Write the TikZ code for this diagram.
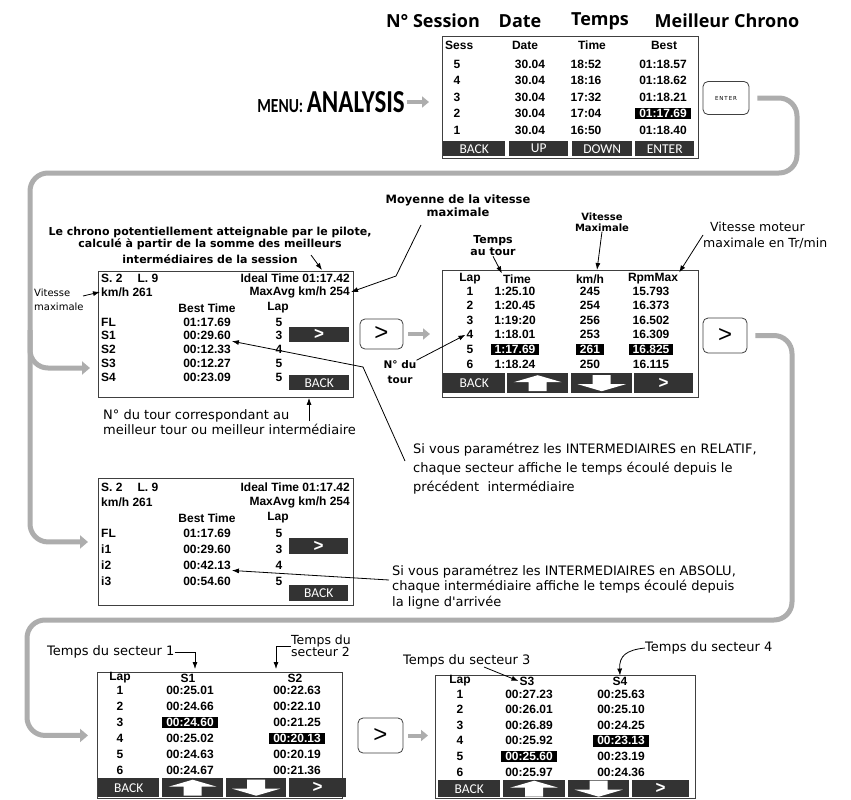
\documentclass[tikz,border=0pt]{standalone}
\usepackage{fontspec}
\setmainfont{Liberation Sans}
\newfontfamily\headfont{Open Sans}
\newfontfamily\keyfont{Carlito}
\newfontfamily\notefont{DejaVu Sans}
\usetikzlibrary{positioning,arrows.meta}

\begin{document}
\begin{tikzpicture}[x=1pt, y=-1pt,
    screen/.style={draw=black!75, line width=0.9pt, inner sep=0, anchor=north west},
    cell/.style={font=\fontsize{12}{12}\selectfont\bfseries, inner sep=1pt},
    plain/.style={},
    hl/.style={fill=black, text=white, inner xsep=4pt, inner ysep=1.5pt},
    btn/.style={fill=black!80, text=white, font=\keyfont\fontsize{13.5}{13.5}\selectfont, inner sep=0, anchor=north west},
    nextbtn/.style={btn, font=\fontsize{17}{17}\selectfont\bfseries},
    key/.style={draw=black!75, line width=0.8pt, rounded corners=5pt, minimum width=44pt, minimum height=32pt, inner sep=0, font=\fontsize{24}{24}\selectfont},
    head/.style={font=\headfont\bfseries\fontsize{18}{18}\selectfont},
    note/.style={font=\notefont\bfseries\fontsize{11}{12}\selectfont, align=center, inner sep=0},
    remark/.style={font=\notefont\fontsize{13}{19}\selectfont, align=left, inner sep=0, anchor=west},
    pointer/.style={-{Latex[length=7pt,width=5pt]}, line width=0.8pt},
    flow/.style={draw=black!32, line width=5pt, rounded corners=18pt, -{Triangle[length=8pt,width=13pt]}},
    go/.style={draw=black!32, line width=4pt, -{Triangle[length=7pt,width=11pt]}}
]
\fill[white] (0,0) rectangle (851,800);
\useasboundingbox (0,0) rectangle (851,800);

% column titles
\node[head] (hsess) at (433,21) {N° Session};
\node[head] (hdate) at (520,21) {Date};
\node[head] (htemps) at (600,21) {Temps};
\node[head] (hchrono) at (727,21) {Meilleur Chrono};

\node[font=\keyfont\bfseries, inner sep=0] (menu) at (331,102)
  {\scalebox{0.78}[1]{\fontsize{20}{20}\selectfont MENU: \fontsize{32}{32}\selectfont ANALYSIS}};

% session list
\node[screen, minimum width=256, minimum height=122] (sess) at (442,36) {};
\node[cell, anchor=west] (ssh) at (444,45) {Sess};
\node[cell] (sdh) at (525,45) {Date};
\node[cell] (sth) at (592,45) {Time};
\node[cell] (sbh) at (664,45) {Best};
\foreach \n/\t/\b/\s [count=\i] in {5/18:52/01:18.57/plain, 4/18:16/01:18.62/plain, 3/17:32/01:18.21/plain, 2/17:04/01:17.69/hl, 1/16:50/01:18.40/plain} {
  \node[cell] (sn\i) at (457,47.5+16.5*\i) {\n};
  \node[cell] (sd\i) at (530,47.5+16.5*\i) {30.04};
  \node[cell] (st\i) at (586,47.5+16.5*\i) {\t};
  \node[cell,\s] (sb\i) at (663,47.5+16.5*\i) {\b};
}
\foreach \x/\w/\t in {443/62/BACK, 509/59/UP, 572/60/DOWN, 635/59/ENTER}
  \node[btn, minimum width=\w, minimum height=15] (sk\t) at (\x,141) {\t};
\node[key, minimum width=46, minimum height=33, font=\notefont\fontsize{5.5}{5.5}\selectfont] (kenter) at (726,98) {E\,N\,T\,E\,R};

% best times, relative
\node[screen, minimum width=255, minimum height=126] (best) at (98,271) {};
\node[cell, anchor=west] (b1s) at (100,278) {S. 2};
\node[cell] (b1l) at (148,278) {L. 9};
\node[cell, anchor=east] (b1ideal) at (351,278) {Ideal Time 01:17.42};
\node[cell, anchor=west] (b1kmh) at (100,292) {km/h 261};
\node[cell, anchor=east] (b1avg) at (351,292) {MaxAvg km/h 254};
\node[cell] (b1bt) at (207,308) {Best Time};
\node[cell] (b1lh) at (278,308) {Lap};
\foreach \a/\b/\c [count=\i] in {FL/01:17.69/5, S1/00:29.60/3, S2/00:12.33/4, S3/00:12.27/5, S4/00:23.09/5} {
  \node[cell, anchor=west] (b1a\i) at (100,308.25+13.75*\i) {\a};
  \node[cell] (b1b\i) at (207,308.25+13.75*\i) {\b};
  \node[cell] (b1c\i) at (279,308.25+13.75*\i) {\c};
}
\node[nextbtn, minimum width=60, minimum height=15] (b1next) at (289,327) {>};
\node[btn, minimum width=60, minimum height=15] (b1back) at (289,375) {BACK};

% best times, absolute
\node[screen, minimum width=255, minimum height=127] (bestabs) at (98,478) {};
\node[cell, anchor=west] (b3s) at (100,487) {S. 2};
\node[cell] (b3l) at (148,487) {L. 9};
\node[cell, anchor=east] (b3ideal) at (351,487) {Ideal Time 01:17.42};
\node[cell, anchor=west] (b3kmh) at (100,502) {km/h 261};
\node[cell, anchor=east] (b3avg) at (351,502) {MaxAvg km/h 254};
\node[cell] (b3bt) at (207,518) {Best Time};
\node[cell] (b3lh) at (278,518) {Lap};
\foreach \a/\b/\c [count=\i] in {FL/01:17.69/5, i1/00:29.60/3, i2/00:42.13/4, i3/00:54.60/5} {
  \node[cell, anchor=west] (b3a\i) at (100,517+16*\i) {\a};
  \node[cell] (b3b\i) at (207,517+16*\i) {\b};
  \node[cell] (b3c\i) at (279,517+16*\i) {\c};
}
\node[nextbtn, minimum width=59, minimum height=16] (b3next) at (289,538) {>};
\node[btn, minimum width=59, minimum height=16] (b3back) at (289,585) {BACK};

% laps
\node[screen, minimum width=256, minimum height=127] (laps) at (442,270) {};
\node[cell] (lhlap) at (470,279) {Lap};
\node[cell] (lhtime) at (517,279) {Time};
\node[cell] (lhkmh) at (590,279) {km/h};
\node[cell] (lhrpm) at (653,279) {RpmMax};
\foreach \t/\k/\r/\s [count=\i] in {1:25.10/245/15.793/plain, 1:20.45/254/16.373/plain, 1:19:20/256/16.502/plain, 1:18.01/253/16.309/plain, 1:17.69/261/16.825/hl, 1:18.24/250/16.115/plain} {
  \node[cell] (ln\i) at (470,276.4+14.6*\i) {\i};
  \node[cell,\s] (lt\i) at (515,276.4+14.6*\i) {\t};
  \node[cell,\s] (lk\i) at (590,276.4+14.6*\i) {\k};
  \node[cell,\s] (lr\i) at (651,276.4+14.6*\i) {\r};
}
\foreach \x/\w/\n in {443/62/back, 507/61/up, 571/61/down}
  \node[btn, minimum width=\w, minimum height=20] (lbtn\n) at (\x,373) {};
\node[nextbtn, minimum width=59, minimum height=20] (lbtnnext) at (634,373) {>};
\node[font=\keyfont\fontsize{13.5}{13.5}\selectfont, text=white] (lbtnbacktxt) at (lbtnback) {BACK};

% sectors 1-2
\node[screen, minimum width=245, minimum height=126] (sec12) at (97,672) {};
\node[cell] (c1hlap) at (120,678) {Lap};
\node[cell] (c1hs1) at (188,678) {S1};
\node[cell] (c1hs2) at (295,678) {S2};
\foreach \a/\sa/\b/\sb [count=\i] in {00:25.01/plain/00:22.63/plain, 00:24.66/plain/00:22.10/plain, 00:24.60/hl/00:21.25/plain, 00:25.02/plain/00:20.13/hl, 00:24.63/plain/00:20.19/plain, 00:24.67/plain/00:21.36/plain} {
  \node[cell] (c1n\i) at (120,674.5+16*\i) {\i};
  \node[cell,\sa] (c1a\i) at (190,674.5+16*\i) {\a};
  \node[cell,\sb] (c1b\i) at (297,674.5+16*\i) {\b};
}
\foreach \x/\w/\n in {98/61/back, 162/61/up, 226/60/down}
  \node[btn, minimum width=\w, minimum height=19] (c1btn\n) at (\x,778) {};
\node[nextbtn, minimum width=57, minimum height=19] (c1btnnext) at (289,778) {>};
\node[font=\keyfont\fontsize{13.5}{13.5}\selectfont, text=white] (c1btnbacktxt) at (c1btnback) {BACK};

% sectors 3-4
\node[screen, minimum width=260, minimum height=123] (sec34) at (435,675) {};
\node[cell] (c2hlap) at (460,681) {Lap};
\node[cell] (c2hs3) at (527,681) {S3};
\node[cell] (c2hs4) at (620,681) {S4};
\foreach \a/\sa/\b/\sb [count=\i] in {00:27.23/plain/00:25.63/plain, 00:26.01/plain/00:25.10/plain, 00:26.89/plain/00:24.25/plain, 00:25.92/plain/00:23.13/hl, 00:25.60/hl/00:23.19/plain, 00:25.97/plain/00:24.36/plain} {
  \node[cell] (c2n\i) at (460,678.4+15.6*\i) {\i};
  \node[cell,\sa] (c2a\i) at (529,678.4+15.6*\i) {\a};
  \node[cell,\sb] (c2b\i) at (621,678.4+15.6*\i) {\b};
}
\foreach \x/\w/\n in {438/62/back, 503/62/up, 568/61/down}
  \node[btn, minimum width=\w, minimum height=17] (c2btn\n) at (\x,780) {};
\node[nextbtn, minimum width=57, minimum height=17] (c2btnnext) at (632,780) {>};
\node[font=\keyfont\fontsize{13.5}{13.5}\selectfont, text=white] (c2btnbacktxt) at (c2btnback) {BACK};

% white arrows on the buttons
\foreach \b in {lbtnup, c1btnup, c2btnup}
  \fill[white, shift={(\b.center)}] (0,-8) -- (24,-1) -- (9,-1) -- (9,8) -- (-9,8) -- (-9,-1) -- (-24,-1) -- cycle;
\foreach \b in {lbtndown, c1btndown, c2btndown}
  \fill[white, shift={(\b.center)}] (0,8) -- (24,1) -- (9,1) -- (9,-8) -- (-9,-8) -- (-9,1) -- (-24,1) -- cycle;

% keys
\node[key, minimum width=43, minimum height=30] (kmid) at (381.5,334) {>};
\node[key, minimum height=35] (kright) at (725,335.5) {>};
\node[key, minimum width=45, minimum height=35] (kbot) at (380.5,735.5) {>};

% notes
\node[note] (nideal) at (210,245) {Le chrono potentiellement atteignable par le pilote,\\calculé à partir de la somme des meilleurs\\[4pt]intermédiaires de la session};
\node[note, font=\notefont\bfseries\fontsize{11.5}{13}\selectfont] (navg) at (458,206) {Moyenne de la vitesse\\maximale};
\node[note, font=\notefont\bfseries\fontsize{10}{11}\selectfont] (nvmax) at (602,222) {Vitesse\\Maximale};
\node[note] (ntour) at (493,246) {Temps\\au tour};
\node[note, align=left, anchor=west, font=\notefont\fontsize{12.5}{16}\selectfont] (nrpm) at (703,235) {\hspace*{7pt}Vitesse moteur\\maximale en Tr/min};
\node[note, align=left, anchor=west, font=\notefont\fontsize{10}{14}\selectfont] (nvit) at (34,300) {Vitesse\\maximale};
\node[note, font=\notefont\bfseries\fontsize{10.5}{15}\selectfont] (nlapno) at (400,372) {N° du\\tour};
\node[remark, font=\notefont\fontsize{13}{15}\selectfont] (nlapbest) at (103,422) {N° du tour correspondant au\\meilleur tour ou meilleur intermédiaire};
\node[remark] (nrel) at (413,469) {Si vous paramétrez les INTERMEDIAIRES en RELATIF,\\chaque secteur affiche le temps écoulé depuis le\\précédent\ \ intermédiaire};
\node[remark, font=\notefont\fontsize{13}{15.5}\selectfont] (nabs) at (392,587) {Si vous paramétrez les INTERMEDIAIRES en ABSOLU,\\chaque intermédiaire affiche le temps écoulé depuis\\la ligne d'arrivée};
\node[remark] (ns1) at (47,652) {Temps du secteur 1};
\node[remark, font=\notefont\fontsize{12.5}{12.5}\selectfont] (ns2) at (291,646) {Temps du\\ secteur 2};
\node[remark] (ns3) at (403,661) {Temps du secteur 3};
\node[remark] (ns4) at (645,648) {Temps du secteur 4};

% pointers
\coordinate (t1) at (311,255);
\coordinate (h1) at (322,270);
\draw[pointer] (t1) -- (h1);
\coordinate (t2) at (421,225);
\coordinate (k2) at (396,276);
\draw[pointer] (t2) -- (k2) -- (b1avg.east);
\draw[pointer] (nvmax.south) -- ([xshift=-5pt]nvmax.south |- laps.north);
\draw[pointer] (ntour.south) -- (lhtime.north west);
\draw[pointer] (nrpm.west) -- (lhrpm.north east);
\coordinate (t6) at (83,296);
\draw[pointer] (t6) -- (b1kmh.west);
\draw[pointer] (nlapno.north east) -- (ln4.west);
\coordinate (t8) at (309,421);
\draw[pointer] (t8) -- (t8 |- best.south);
\coordinate (t9) at (405,461);
\coordinate (k9) at (363,367);
\draw[pointer] (t9) -- (k9) -- (b1b2.south east);
\coordinate (t10) at (389,580);
\draw[pointer] (t10) -- (b3b3.south east);
\coordinate (h11) at (195,669);
\draw[pointer] (ns1.east) -| (h11);
\coordinate (h12) at (276,669);
\draw[pointer] (ns2.west) -| (h12);
\coordinate (t13) at (484,667);
\draw[pointer] (t13) -- (c2hs3.west);
\draw[pointer] (ns4.west) .. controls (626,650) and (619,656) .. (c2hs4.north);

% grey flow
\draw[go, shorten <=2pt, shorten >=13pt] (menu.east) -- (menu.east -| sess.west);
\draw[go, shorten <=5pt, shorten >=12pt] (kmid.east) -- (kmid.east -| laps.west);
\draw[go, shorten <=5pt, shorten >=7pt] (kbot.east) -- (kbot.east -| sec34.west);
\coordinate (fne) at (797,173);
\coordinate (fnw) at (30,173);
\draw[flow, shorten >=10pt] ([xshift=8pt]kenter.east) -| (fne) -- (fnw) |- (bestabs.west);
\coordinate (fbr) at (30,330);
\coordinate (b1in) at (98,368);
\draw[flow, shorten >=8pt] (fbr) |- (b1in);
\coordinate (fse) at (792,620);
\coordinate (fsw) at (27,620);
\draw[flow, shorten >=9pt] ([xshift=8pt]kright.east) -| (fse) -- (fsw) |- (sec12.west);
\end{tikzpicture}
\end{document}
